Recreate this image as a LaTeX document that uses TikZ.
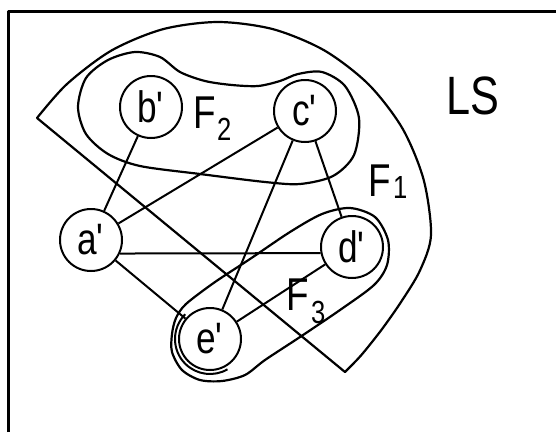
\documentclass[tikz,border=0pt]{standalone}
\usepackage{fontspec}
\setmainfont{Liberation Sans}
\newfontfamily\pix[FakeStretch=0.8]{Liberation Sans}
\begin{document}
\begin{tikzpicture}[x=1pt,y=-1pt,line width=2pt,line join=round,
  vert/.style={circle,draw,minimum size=62pt,inner sep=0pt,
    font=\pix\fontsize{44}{44}\selectfont},
  flab/.style={inner sep=0pt,anchor=base west,font=\pix\fontsize{46}{46}\selectfont},
  fsub/.style={inner sep=0pt,anchor=base west,font=\pix\fontsize{32}{32}\selectfont},
  region/.style={line width=2.2pt}]
\useasboundingbox (0,0) rectangle (556,432);
% frame
\draw[line width=3pt] (8,432) -- (8,11) -- (556,11);
% F1 sector
\draw[region] plot[smooth] coordinates {(37,118) (67,84) (111.5,50.5) (162.9,29.2) (218,22)
  (273.1,29.2) (324.5,50.5) (368.6,84.4) (402.5,128.5) (423.7,179.9) (431,235)
  (419.9,270.6) (401.2,301.7) (381.7,329.5) (361.2,355.2) (345,372)} -- cycle;
% F2 loop
\draw[region] plot[smooth cycle] coordinates {(78,107) (86,78) (108,60) (135,52) (160,57)
  (180,72) (205,81) (232,85) (258,86) (280,81) (298,74) (322,72) (345,86) (359,118)
  (354,155) (333,176) (300,184) (265,182) (200,174) (140,166) (108,154) (86,134)};
% vertices
\node[vert] (a) at (91,240) {a\textquotesingle};
\node[vert] (b) at (151,107) {b\textquotesingle};
\node[vert] (c) at (305,111) {c\textquotesingle};
\node[vert] (d) at (352,247) {d\textquotesingle};
\node[vert] (e) at (210,339) {e\textquotesingle};
% F3 loop
\draw[region] plot[smooth cycle] coordinates {(176,318) (186,304) (215,282) (250,259) (290,232)
  (322,214) (350,208) (375,217) (388,240) (387,265) (374,285) (340,310) (300,337)
  (265,360) (245,375) (222,381) (200,380) (182,370) (172,352) (172,334)};
\draw ([shift={(-135:35)}]e.center) arc (-135:-300:35);
% edges
\draw (b) -- (a);
\draw (c) -- (a);
\draw (c) -- (e);
\draw (c) -- (d);
\draw (a) -- (e);
\draw (d) -- (e);
\draw (a.-25) -- (d.191);
% labels
\node[flab] (F2) at (192,128) {F};
\node[fsub] (s2) at (216,140) {2};
\node[flab] (F1) at (367,196) {F};
\node[fsub] (s1) at (392,198) {1};
\node[flab] (F3) at (285,310) {F};
\node[fsub] (s3) at (310,323) {3};
\node[inner sep=0pt,anchor=base west,font=\pix\fontsize{54}{54}\selectfont] (LS) at (445,114) {LS};
\end{tikzpicture}
\end{document}
